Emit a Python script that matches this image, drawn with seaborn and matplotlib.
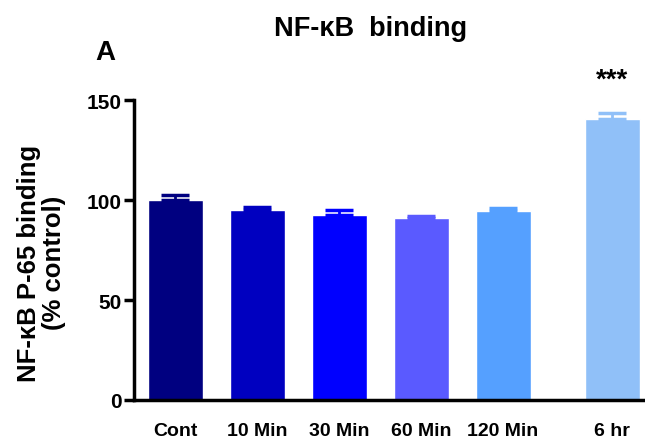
import numpy as np
import pandas as pd
import matplotlib
matplotlib.use("Agg")
import matplotlib.pyplot as plt
import seaborn as sns

### Dados
categorias = ["Cont", "10 Min", "30 Min", "60 Min", "120 Min", "6 hr"]
posicoes = [0, 1, 2, 3, 4, 5.33]
valores = [100.0, 95.0, 92.5, 90.8, 94.3, 140.5]
erros = [2.7, 1.5, 2.3, 1.0, 1.7, 3.2]
cores = ["#000080", "#0000C0", "#0000FF", "#5A5AFF", "#55A0FF", "#90C0F8"]

sns.set_style("ticks")
plt.rcParams["font.family"] = ["Liberation Sans", "DejaVu Sans"]
plt.rcParams["font.weight"] = "bold"
plt.rcParams["text.color"] = "black"
plt.rcParams["axes.labelcolor"] = "black"
plt.rcParams["xtick.color"] = "black"
plt.rcParams["ytick.color"] = "black"
plt.rcParams["axes.edgecolor"] = "black"

dados = pd.DataFrame({"pos": posicoes, "valor": valores, "cat": categorias})

fig = plt.figure(figsize=(6.45, 4.39), dpi=100)
ax = fig.add_axes([0.2078, 0.0866, 0.7922, 0.683])

sns.barplot(data=dados, x="pos", y="valor", hue="cat", palette=cores,
            native_scale=True, width=0.67, legend=False, saturation=1,
            errorbar=None, ax=ax)

# barras de erro so para cima
for p, v, e, c in zip(posicoes, valores, erros, cores):
    ax.errorbar(p, v, yerr=[[0], [e]], fmt="none", ecolor=c, elinewidth=2,
                capsize=10, capthick=2.5)

ax.text(posicoes[-1], valores[-1] + erros[-1] + 10, "***", ha="center", va="bottom",
        fontsize=20, fontweight="bold", clip_on=False)

ax.set_xlim(-0.5, 5.73)
ax.set_ylim(0, 150)
ax.set_yticks([0, 50, 100, 150])
ax.set_xticks(posicoes)
ax.set_xticklabels(categorias)
ax.tick_params(axis="x", length=0, pad=16, labelsize=14)
ax.tick_params(axis="y", length=7, width=2.5, pad=2, labelsize=15)
for lab in ax.get_xticklabels() + ax.get_yticklabels():
    lab.set_fontweight("bold")
ax.spines["left"].set_linewidth(2.5)
ax.spines["bottom"].set_linewidth(2.5)
ax.spines["top"].set_visible(False)
ax.spines["right"].set_visible(False)
ax.set_xlabel("")
ax.set_ylabel("NF-\u03baB P-65 binding\n(% control)", fontsize=18.5, fontweight="bold",
              va="center", ha="center", linespacing=1.05)
ax.yaxis.set_label_coords(-0.182, 0.46)

fig.text(0.575, 0.935, "NF-\u03baB  binding", ha="center", va="center",
         fontsize=19.5, fontweight="bold")
fig.text(0.163, 0.88, "A", ha="center", va="center", fontsize=20, fontweight="bold")

fig.savefig("out.png", dpi=100)
